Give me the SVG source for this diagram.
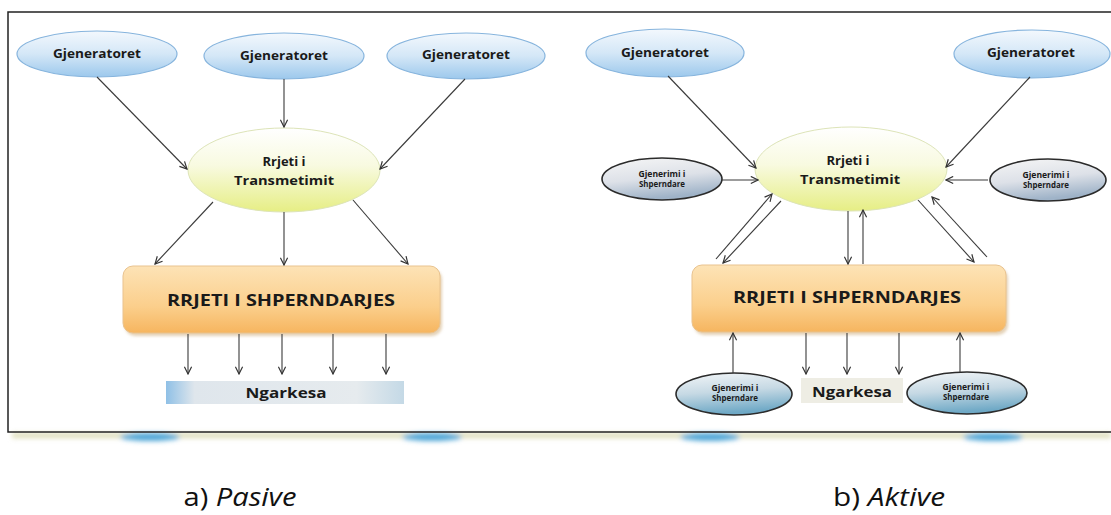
<svg xmlns="http://www.w3.org/2000/svg" width="1111" height="515" viewBox="0 0 1111 515">
<defs>
<linearGradient id="gBlue" x1="0" y1="0" x2="0" y2="1">
<stop offset="0" stop-color="#f3f8fd"/><stop offset="0.5" stop-color="#d4e7f7"/><stop offset="1" stop-color="#9cc8ec"/>
</linearGradient>
<linearGradient id="gYellow" x1="0" y1="0" x2="0" y2="1">
<stop offset="0" stop-color="#ffffff"/><stop offset="0.45" stop-color="#f8fae0"/><stop offset="1" stop-color="#e6ee84"/>
</linearGradient>
<linearGradient id="gOrange" x1="0" y1="0" x2="0" y2="1">
<stop offset="0" stop-color="#fde3b6"/><stop offset="0.6" stop-color="#fbcf8c"/><stop offset="1" stop-color="#f6b55f"/>
</linearGradient>
<linearGradient id="gGray" x1="0" y1="0" x2="0.3" y2="1">
<stop offset="0" stop-color="#f6f6f6"/><stop offset="0.55" stop-color="#dde1e8"/><stop offset="1" stop-color="#9fb3c8"/>
</linearGradient>
<linearGradient id="gTeal" x1="0" y1="0" x2="0.2" y2="1">
<stop offset="0" stop-color="#f3f6f8"/><stop offset="0.5" stop-color="#c6d9e4"/><stop offset="1" stop-color="#6fa9c6"/>
</linearGradient>
<linearGradient id="gLoad" x1="0" y1="0" x2="1" y2="0">
<stop offset="0" stop-color="#8fc0e6"/><stop offset="0.12" stop-color="#dfe6ec"/><stop offset="0.8" stop-color="#e6ebee"/><stop offset="1" stop-color="#c4d9e6"/>
</linearGradient>
<filter id="blur" x="-5%" y="-100%" width="110%" height="300%"><feGaussianBlur stdDeviation="2.5"/></filter>
<filter id="sh" x="-5%" y="-10%" width="110%" height="130%"><feGaussianBlur stdDeviation="1.5"/></filter>
<marker id="ah" viewBox="0 0 10 10" refX="9" refY="5" markerWidth="9" markerHeight="9" markerUnits="userSpaceOnUse" orient="auto">
<path d="M1,1 L9,5 L1,9" fill="none" stroke="#333" stroke-width="1.3"/>
</marker>
</defs>
<style>
.gen{fill:url(#gBlue);stroke:#86b4dd;stroke-width:1.2}
.tr{fill:url(#gYellow);stroke:#dde4b8;stroke-width:1}
.dist{fill:url(#gOrange);stroke:#e9c38f;stroke-width:1}
.dg{fill:url(#gGray);stroke:#2b2b2b;stroke-width:1.6}
.dgb{fill:url(#gTeal);stroke:#2b2b2b;stroke-width:1.6}
text{font-family:"Open Sans","Liberation Sans",sans-serif;font-weight:bold;fill:#1a1a1a;text-anchor:middle}
.t12{font-size:13px}
.t13{font-size:13px}
.t16{font-size:16px}
.t14{font-size:14px}
.t8{font-size:8px}
.cap{font-size:25px;font-weight:normal;fill:#111}
.c line{stroke:#3a3a3a;stroke-width:1.1;marker-end:url(#ah)}
</style>
<rect width="1111" height="515" fill="#ffffff"/>
<!-- frame shadow -->
<g id="frame-shadow" filter="url(#blur)">
<rect x="12" y="433" width="1099" height="5" fill="#dcdcb6"/>
<ellipse cx="150" cy="437" rx="30" ry="4" fill="#4fa6d6"/>
<ellipse cx="432" cy="437" rx="30" ry="4" fill="#4fa6d6"/>
<ellipse cx="710" cy="437" rx="30" ry="4" fill="#4fa6d6"/>
<ellipse cx="993" cy="437" rx="30" ry="4" fill="#4fa6d6"/>
</g>
<g id="frame">
<rect x="8" y="12" width="1110" height="420" fill="none" stroke="#222" stroke-width="1.5"/>
</g>

<!-- LEFT PANEL -->
<g id="a-gen1"><ellipse class="gen" cx="97" cy="54" rx="80" ry="23"/><text class="t12" x="97" y="58" textLength="88" lengthAdjust="spacingAndGlyphs">Gjeneratoret</text></g>
<g id="a-gen2"><ellipse class="gen" cx="284" cy="56" rx="80" ry="23"/><text class="t12" x="284" y="60" textLength="88" lengthAdjust="spacingAndGlyphs">Gjeneratoret</text></g>
<g id="a-gen3"><ellipse class="gen" cx="466" cy="56" rx="79" ry="23"/><text class="t12" x="466" y="59" textLength="88" lengthAdjust="spacingAndGlyphs">Gjeneratoret</text></g>
<g id="a-trans"><ellipse class="tr" cx="284" cy="170" rx="96" ry="42"/><text class="t13" x="284" y="166">Rrjeti i</text><text class="t13" x="284" y="185" textLength="100" lengthAdjust="spacingAndGlyphs">Transmetimit</text></g>
<g id="a-dist"><rect x="125" y="269" width="317" height="67" rx="10" fill="#c9a46e" opacity="0.5" filter="url(#sh)"/><rect class="dist" x="123" y="266" width="317" height="67" rx="10"/><text class="t16" x="281" y="306" textLength="228" lengthAdjust="spacingAndGlyphs">RRJETI I SHPERNDARJES</text></g>
<g id="a-load"><rect x="166" y="381" width="238" height="23" fill="url(#gLoad)"/><text class="t14" x="286" y="398" textLength="81" lengthAdjust="spacingAndGlyphs">Ngarkesa</text></g>

<!-- RIGHT PANEL -->
<g id="b-gen1"><ellipse class="gen" cx="665" cy="53" rx="79" ry="24"/><text class="t12" x="665" y="57" textLength="88" lengthAdjust="spacingAndGlyphs">Gjeneratoret</text></g>
<g id="b-gen2"><ellipse class="gen" cx="1032" cy="54" rx="78" ry="24"/><text class="t12" x="1031" y="57" textLength="88" lengthAdjust="spacingAndGlyphs">Gjeneratoret</text></g>
<g id="b-trans"><ellipse class="tr" cx="851" cy="169" rx="96" ry="42"/><text class="t13" x="848" y="165">Rrjeti i</text><text class="t13" x="850" y="184" textLength="100" lengthAdjust="spacingAndGlyphs">Transmetimit</text></g>
<g id="b-dg1"><ellipse class="dg" cx="662" cy="179" rx="60" ry="21"/><text class="t8" x="662" y="177" textLength="47" lengthAdjust="spacingAndGlyphs">Gjenerimi i</text><text class="t8" x="662" y="187" textLength="46" lengthAdjust="spacingAndGlyphs">Shperndare</text></g>
<g id="b-dg2"><ellipse class="dg" cx="1048" cy="180" rx="58" ry="21"/><text class="t8" x="1046" y="178" textLength="47" lengthAdjust="spacingAndGlyphs">Gjenerimi i</text><text class="t8" x="1046" y="188" textLength="46" lengthAdjust="spacingAndGlyphs">Shperndare</text></g>
<g id="b-dist"><rect x="694" y="268" width="314" height="67" rx="10" fill="#c9a46e" opacity="0.5" filter="url(#sh)"/><rect class="dist" x="692" y="265" width="314" height="67" rx="10"/><text class="t16" x="847" y="303" textLength="228" lengthAdjust="spacingAndGlyphs">RRJETI I SHPERNDARJES</text></g>
<g id="b-dg3"><ellipse class="dgb" cx="734" cy="394" rx="58" ry="21"/><text class="t8" x="735" y="391" textLength="47" lengthAdjust="spacingAndGlyphs">Gjenerimi i</text><text class="t8" x="735" y="401" textLength="46" lengthAdjust="spacingAndGlyphs">Shperndare</text></g>
<g id="b-load"><rect x="801" y="378" width="102" height="25" fill="#eeede4"/><text class="t14" x="852" y="397" textLength="80" lengthAdjust="spacingAndGlyphs">Ngarkesa</text></g>
<g id="b-dg4"><ellipse class="dgb" cx="967" cy="393" rx="60" ry="21"/><text class="t8" x="966" y="390" textLength="47" lengthAdjust="spacingAndGlyphs">Gjenerimi i</text><text class="t8" x="966" y="400" textLength="46" lengthAdjust="spacingAndGlyphs">Shperndare</text></g>

<!-- CONNECTORS -->
<g id="connectors" class="c">
<line x1="97" y1="77" x2="187" y2="169"/>
<line x1="284" y1="79" x2="284" y2="127"/>
<line x1="465" y1="79" x2="380" y2="169"/>
<line x1="213" y1="202" x2="155" y2="264"/>
<line x1="284" y1="212" x2="284" y2="265"/>
<line x1="353" y1="200" x2="408" y2="264"/>
<line x1="188" y1="334" x2="188" y2="374"/>
<line x1="239" y1="334" x2="239" y2="374"/>
<line x1="282" y1="334" x2="282" y2="374"/>
<line x1="333" y1="334" x2="333" y2="374"/>
<line x1="386" y1="334" x2="386" y2="374"/>

<line x1="668" y1="76" x2="756" y2="168"/>
<line x1="1030" y1="77" x2="946" y2="167"/>
<line x1="722" y1="180" x2="758" y2="180"/>
<line x1="988" y1="180" x2="946" y2="180"/>
<line x1="716" y1="259" x2="772" y2="194"/>
<line x1="781" y1="201" x2="723" y2="263"/>
<line x1="848" y1="211" x2="848" y2="264"/>
<line x1="863" y1="264" x2="863" y2="210"/>
<line x1="918" y1="200" x2="974" y2="262"/>
<line x1="987" y1="257" x2="932" y2="197"/>
<line x1="733" y1="373" x2="733" y2="333"/>
<line x1="960" y1="372" x2="960" y2="333"/>
<line x1="806" y1="333" x2="806" y2="374"/>
<line x1="847" y1="333" x2="847" y2="374"/>
<line x1="899" y1="333" x2="899" y2="374"/>
</g>

<g id="captions">
<text class="cap" x="240" y="506" textLength="113" lengthAdjust="spacingAndGlyphs">a) <tspan font-style="italic">Pasive</tspan></text>
<text class="cap" x="889" y="506" textLength="112" lengthAdjust="spacingAndGlyphs">b) <tspan font-style="italic">Aktive</tspan></text>
</g>
</svg>
